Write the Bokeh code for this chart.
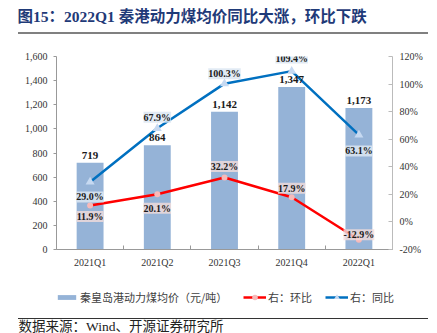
from bokeh.plotting import figure, ColumnDataSource
from bokeh.models import (Range1d, LinearAxis, FixedTicker, NumeralTickFormatter,
                          PrintfTickFormatter, LabelSet, Legend, LegendItem, Div)
from bokeh.layouts import column
from bokeh.core.properties import value
from bokeh.embed import file_html
from bokeh.resources import INLINE

categories = ["2021Q1", "2021Q2", "2021Q3", "2021Q4", "2022Q1"]
price = [719, 864, 1142, 1347, 1173]
qoq = [11.9, 20.1, 32.2, 17.9, -12.9]
yoy = [29.0, 67.9, 100.3, 109.4, 63.1]

title_text = "图15：2022Q1 秦港动力煤均价同比大涨，环比下跌"
source_text = "数据来源：Wind、开源证券研究所"
legend_bar = "秦皇岛港动力煤均价（元/吨）"
legend_qoq = "右：环比"
legend_yoy = "右：同比"

W = 437
FL, FR = 56, 392            # chart frame left/right on canvas
FT, FB = 56, 250            # chart frame top/bottom on canvas

SERIF = "'Liberation Serif', 'Noto Sans CJK SC'"
SANS = "'Noto Sans CJK SC', 'Noto Sans'"

BAR_C = "#95B3D7"
RED = "#FF0000"
BLUE = "#0070C0"
RED_M = "#F7B9B9"
BLUE_M = "#C6D9F1"
NAN = float("nan")


def panel(h):
    f = figure(width=W, height=h, output_backend="svg", toolbar_location=None,
               x_range=Range1d(0, W), y_range=Range1d(0, h),
               frame_align=False, min_border=0, x_axis_type=None, y_axis_type=None)
    f.outline_line_color = None
    f.grid.visible = False
    return f


def rule(h, color):
    return Div(text="", width=428 - 18, height=h, margin=(0, 0, 0, 18),
               styles={"background-color": color, "padding": "0", "overflow": "hidden"})


# ---------------- header: title (0-32) and rule (32-34) ----------------
top = panel(32)
top.text(x=[17], y=[32 - 16], text=[title_text], text_font=value(SERIF),
         text_font_size="15.5px", text_font_style="bold", text_color="#1F3A78",
         text_baseline="middle")
rule1 = rule(2, "#808080")

# ---------------- main chart (34-270) ----------------
MAIN_TOP, MAIN_BOT = 34, 270
xs = list(range(len(categories)))
src = ColumnDataSource(dict(
    x=xs, price=price, qoq=qoq, yoy=yoy,
    price_lbl=[f"{v:,}" for v in price],
    qoq_lbl=[f"{v:.1f}%" for v in qoq],
    yoy_lbl=[f"{v:.1f}%" for v in yoy],
    yoy_off=[-15, 11, 10, 13, -16],
    qoq_off=[-11, -14, 11, 9, 5],
))

p = figure(width=W, height=MAIN_BOT - MAIN_TOP, output_backend="svg", toolbar_location=None,
           x_range=Range1d(-0.5, len(categories) - 0.5), y_range=Range1d(0, 1600),
           frame_align=False,
           min_border_left=FL, min_border_right=W - FR, min_border_top=FT - MAIN_TOP,
           min_border_bottom=MAIN_BOT - FB)
p.outline_line_color = None
p.grid.visible = False
p.extra_y_ranges = {"pct": Range1d(-20, 120)}

ax = p.xaxis[0]
ax.ticker = FixedTicker(ticks=xs, minor_ticks=[i - 0.5 for i in range(len(categories) + 1)])
ax.major_label_overrides = {i: c for i, c in enumerate(categories)}
ax.major_tick_in = 0
ax.major_tick_out = 0
ax.minor_tick_in = 4
ax.minor_tick_out = 0
ax.minor_tick_line_color = "#999999"
ax.axis_line_color = "#999999"
ax.major_label_text_font = SERIF
ax.major_label_text_font_size = "10px"
ax.major_label_text_color = "#333333"
ax.major_label_standoff = 7

ay = p.yaxis[0]
ay.ticker = FixedTicker(ticks=list(range(0, 1601, 200)))
ay.formatter = NumeralTickFormatter(format="0,0")
ay.major_tick_in = 0
ay.major_tick_out = 3
ay.minor_tick_line_color = None
ay.axis_line_color = "#999999"
ay.major_tick_line_color = "#999999"
ay.major_label_text_font = SERIF
ay.major_label_text_font_size = "10px"
ay.major_label_text_color = "#333333"
ay.major_label_standoff = 6

ar = LinearAxis(y_range_name="pct", ticker=FixedTicker(ticks=list(range(-20, 121, 20))),
                formatter=PrintfTickFormatter(format="%d%%"))
ar.major_tick_in = 4
ar.major_tick_out = 0
ar.minor_tick_line_color = None
ar.axis_line_color = "#BBBBBB"
ar.major_tick_line_color = "#BBBBBB"
ar.major_label_text_font = SERIF
ar.major_label_text_font_size = "10px"
ar.major_label_text_color = "#333333"
ar.major_label_standoff = 7
p.add_layout(ar, "right")

p.vbar(x="x", top="price", width=0.4, source=src, fill_color=BAR_C, line_color=None)
p.line("x", "qoq", source=src, y_range_name="pct", line_color=RED, line_width=2.5)
p.scatter("x", "qoq", source=src, y_range_name="pct", marker="circle", size=6,
          fill_color=RED_M, line_color=None)
p.line("x", "yoy", source=src, y_range_name="pct", line_color=BLUE, line_width=2.5)
p.scatter("x", "yoy", source=src, y_range_name="pct", marker="triangle", size=9,
          fill_color=BLUE_M, line_color=None)

p.add_layout(LabelSet(x="x", y="price", text="price_lbl", source=src, y_offset=4,
                      text_align="center", text_baseline="bottom", text_font=SERIF,
                      text_font_size="11px", text_font_style="bold", text_color="#1a1a1a"))
p.add_layout(LabelSet(x="x", y="yoy", text="yoy_lbl", source=src, y_range_name="pct",
                      y_offset="yoy_off", text_align="center", text_baseline="middle",
                      text_font=SERIF, text_font_size="10px", text_font_style="bold",
                      text_color="#1a1a1a", background_fill_color="#DCE6F2",
                      background_fill_alpha=0.85))
p.add_layout(LabelSet(x="x", y="qoq", text="qoq_lbl", source=src, y_range_name="pct",
                      y_offset="qoq_off", text_align="center", text_baseline="middle",
                      text_font=SERIF, text_font_size="10px", text_font_style="bold",
                      text_color="#1a1a1a", background_fill_color="#F2DCDB",
                      background_fill_alpha=0.8))

# ---------------- legend strip (270-318) ----------------
LEG_H = 48
leg = panel(LEG_H)
k_bar = leg.vbar(x=[NAN], top=[NAN], width=1, fill_color=BAR_C, line_color=None)
k_ql = leg.line(x=[NAN], y=[NAN], line_color=RED, line_width=2.5)
k_qs = leg.scatter(x=[NAN], y=[NAN], marker="circle", size=6, fill_color=RED_M, line_color=None)
k_yl = leg.line(x=[NAN], y=[NAN], line_color=BLUE, line_width=2.5)
k_ys = leg.scatter(x=[NAN], y=[NAN], marker="triangle", size=7, fill_color=BLUE_M,
                   line_color=None)


def mk_legend(item, x, ycanvas, gh):
    yb = LEG_H - (ycanvas - MAIN_BOT) - 7
    lg = Legend(items=[item], location=(x, yb), orientation="horizontal",
                padding=0, margin=0, border_line_color=None, background_fill_alpha=0,
                glyph_width=23, glyph_height=gh, label_height=14, label_standoff=2,
                label_text_font=SANS, label_text_font_size="11px", label_text_color="#404040",
                label_text_baseline="middle")
    leg.add_layout(lg, "center")


mk_legend(LegendItem(label=legend_bar, renderers=[k_bar]), 55, 298, 6)
mk_legend(LegendItem(label=legend_qoq, renderers=[k_ql, k_qs]), 243, 298, 14)
mk_legend(LegendItem(label=legend_yoy, renderers=[k_yl, k_ys]), 325, 298, 14)

# ---------------- rule (318-319) and source (319-333) ----------------
rule2 = rule(1, "#333333")
foot = panel(14)
foot.text(x=[18], y=[7], text=[source_text], text_font=value(SERIF),
          text_font_size="13.5px", text_color="#222222", text_baseline="middle")

layout = column(top, rule1, p, leg, rule2, foot, spacing=0)
open("out.html", "w").write(file_html(layout, INLINE))
